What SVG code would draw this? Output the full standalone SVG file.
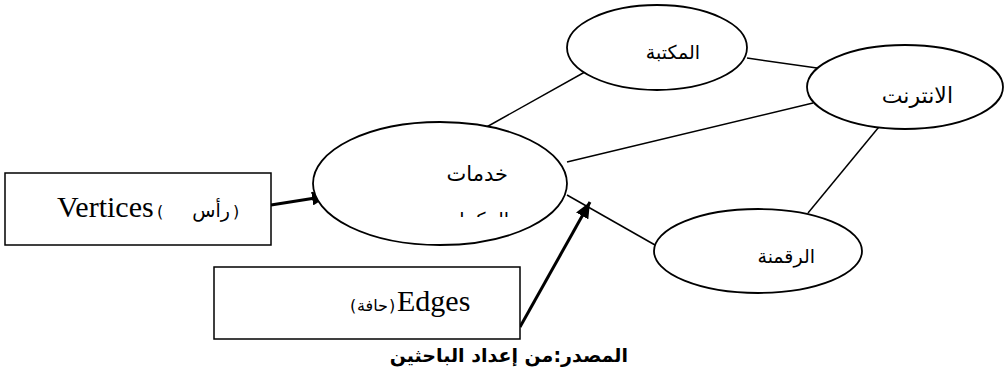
<svg xmlns="http://www.w3.org/2000/svg" width="1008" height="378" viewBox="0 0 1008 378">
<defs>
<style>
.node{fill:#fff;stroke:#000;stroke-width:1.8}
.box{fill:#fff;stroke:#000;stroke-width:1.5}
.edge{stroke:#000;stroke-width:1.5;fill:none}
.arrow{stroke:#000;stroke-width:3;fill:none}
.ar{font-family:"DejaVu Sans","Noto Sans",sans-serif;font-size:19px;fill:#000}
.sm{font-size:16px}
.en{font-family:"Liberation Serif",serif;font-size:30px;fill:#000}
.foot{font-family:"DejaVu Sans","Liberation Sans",sans-serif;font-size:19px;font-weight:bold;fill:#000}
</style>
<marker id="ah" markerUnits="userSpaceOnUse" markerWidth="18" markerHeight="14" refX="16" refY="7" orient="auto">
<path d="M0,0 L16,7 L0,14 Z" fill="#000"/>
</marker>
<clipPath id="clipfrag"><rect x="440" y="211" width="80" height="6"/></clipPath>
</defs>
<g id="connectors">
<line class="edge" x1="483" y1="129" x2="592" y2="68"/>
<line class="edge" x1="747" y1="58" x2="817" y2="68"/>
<line class="edge" x1="567" y1="162" x2="813" y2="103"/>
<line class="edge" x1="883" y1="122" x2="808" y2="213"/>
<line class="edge" x1="567" y1="195" x2="655" y2="245"/>
<line class="arrow" x1="271" y1="205" x2="328" y2="196" marker-end="url(#ah)"/>
<line class="arrow" x1="520" y1="327" x2="590" y2="202" marker-end="url(#ah)"/>
</g>
<g id="node-khadamat">
<ellipse class="node" cx="440" cy="183.5" rx="127" ry="61.5"/>
<text class="ar" x="508" y="181" text-anchor="end" style="font-size:21px">خدمات</text>
<text class="ar" x="509" y="226" text-anchor="end" clip-path="url(#clipfrag)">المكتبات</text>
</g>
<g id="node-maktaba">
<ellipse class="node" cx="657" cy="47.5" rx="90" ry="42.5"/>
<text class="ar" x="700" y="59" text-anchor="end">المكتبة</text>
</g>
<g id="node-internet">
<ellipse class="node" cx="905" cy="87" rx="98" ry="42"/>
<text class="ar" x="953" y="103" text-anchor="end" style="font-size:22px">الانترنت</text>
</g>
<g id="node-raqmana">
<ellipse class="node" cx="758" cy="251" rx="104" ry="42"/>
<text class="ar" x="815" y="263" text-anchor="end">الرقمنة</text>
</g>
<g id="node-vertices">
<rect class="box" x="5" y="173" width="266" height="72"/>
<text class="en" x="57" y="217">Vertices</text>
<text class="ar sm" x="157" y="217">(</text>
<text class="ar" x="230" y="217" text-anchor="end">رأس</text>
<text class="ar sm" x="233" y="217">)</text>
</g>
<g id="node-edges">
<rect class="box" x="214" y="267" width="306" height="72"/>
<text class="ar sm" x="350" y="311">(</text>
<text class="ar sm" x="388" y="311" text-anchor="end">حافة</text>
<text class="ar sm" x="389" y="311">)</text>
<text class="en" x="397" y="311">Edges</text>
</g>
<g id="caption">
<text class="foot" x="628" y="362" text-anchor="end">المصدر:من إعداد الباحثين</text>
</g>
</svg>
